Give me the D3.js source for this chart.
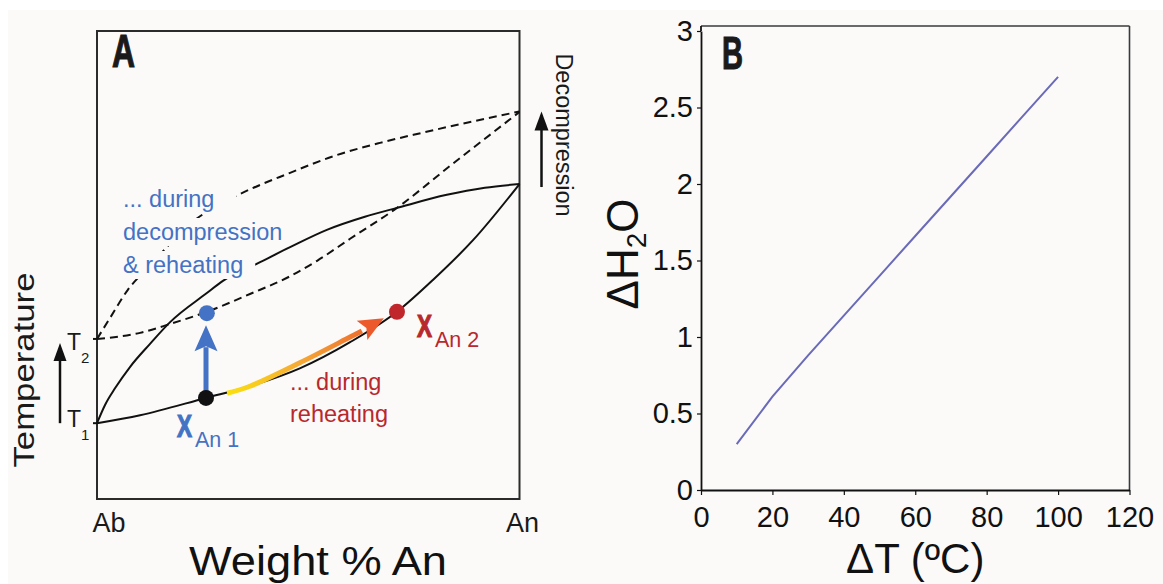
<!DOCTYPE html>
<html><head><meta charset="utf-8">
<script src="https://cdn.jsdelivr.net/npm/d3@7"></script>
<style>
body{margin:0;background:#fff;}
svg{display:block;font-family:"Liberation Sans",Arial,Helvetica,sans-serif;}
</style>
</head><body>
<svg id="c" width="1163" height="584"></svg>
<script>
// ---------- Panel A: schematic phase diagram (Weight % An vs relative temperature) ----------
const liquidusX  = [0, 1.9, 4.3, 7.8, 12.5, 17.3, 26.0, 29.8, 38.6, 45.7, 54.4, 63.4, 71.0, 82.8, 91.8, 100];
const liquidusT  = [16.2, 20.1, 23.7, 28.2, 33.1, 37.8, 44.0, 46.6, 50.6, 53.8, 57.5, 60.3, 62.2, 65.0, 66.5, 67.3];
const solidusX   = [0, 10.2, 25.8, 36.2, 48.0, 59.9, 71.0, 79.5, 89.0, 100];
const solidusT   = [16.2, 17.9, 21.6, 24.1, 27.9, 33.5, 40.0, 46.8, 55.3, 67.3];
const liqDecX    = [0, 3.1, 7.3, 12.5, 22.0, 32.0, 45.7, 56.8, 67.0, 76.7, 100];
const liqDecT    = [34.2, 38.7, 44.7, 49.8, 58.8, 64.3, 69.7, 73.5, 76.1, 78.2, 82.8];
const solDecX    = [0, 10.2, 17.3, 26.0, 36.2, 45.7, 52.1, 59.9, 71.0, 83.6, 100];
const solDecT    = [34.2, 35.5, 37.4, 40.0, 43.8, 47.6, 50.9, 55.6, 62.2, 71.2, 82.7];
const reheatX    = [30.8, 36.2, 48.0, 59.9, 62.7];
const reheatT    = [22.6, 24.1, 29.1, 34.6, 35.9];
const reheatTip  = [67.9, 38.6];
const pointNames = ["XAn1", "XAn1 decompressed", "XAn2"];
const pointX     = [25.8, 26.0, 71.0];
const pointT     = [21.6, 39.7, 40.0];
const T1 = 16.2, T2 = 34.2, anSolid = 67.3, anDashed = 82.8;
const blueText = ["... during", "decompression", "& reheating"];
const redText  = ["... during", "reheating"];

// ---------- Panel B ----------
const dT   = [10, 20, 30, 40, 50, 60, 70, 80, 90, 100];
const dH2O = [0.30, 0.61, 0.88, 1.14, 1.40, 1.66, 1.92, 2.18, 2.44, 2.70];
const xTicksB = [0, 20, 40, 60, 80, 100, 120];
const yTicksB = [0, 0.5, 1, 1.5, 2, 2.5, 3];

const BG = "#fbfaf9", BLUE = "#4472c4", RED = "#b8282e", REDDOT = "#c0272d";
const svg = d3.select("#c");
svg.append("rect").attr("x", 8).attr("y", 10).attr("width", 1155).attr("height", 574).attr("fill", BG);

const defs = svg.append("defs");

// ================= Panel A =================
const xA = d3.scaleLinear().domain([0, 100]).range([97, 519.5]);
const yA = d3.scaleLinear().domain([0, 100]).range([499, 31]);
const gA = svg.append("g");
const lineA = d3.line().x(d => xA(d[0])).y(d => yA(d[1])).curve(d3.curveMonotoneX);
const zip = (a, b) => a.map((v, i) => [v, b[i]]);

// frame
gA.append("rect").attr("x", xA(0)).attr("y", yA(100)).attr("width", xA(100) - xA(0)).attr("height", yA(0) - yA(100))
  .attr("fill", "none").attr("stroke", "#2b2b2b").attr("stroke-width", 2);

// curves
gA.append("path").attr("d", lineA(zip(liqDecX, liqDecT))).attr("fill", "none").attr("stroke", "#111")
  .attr("stroke-width", 2).attr("stroke-dasharray", "8,5");
gA.append("path").attr("d", lineA(zip(solDecX, solDecT))).attr("fill", "none").attr("stroke", "#111")
  .attr("stroke-width", 2).attr("stroke-dasharray", "8,5");
gA.append("path").attr("d", lineA(zip(liquidusX, liquidusT))).attr("fill", "none").attr("stroke", "#111").attr("stroke-width", 2);
gA.append("path").attr("d", lineA(zip(solidusX, solidusT))).attr("fill", "none").attr("stroke", "#111").attr("stroke-width", 2);

// T1/T2 ticks
[T1, T2].forEach(t => gA.append("line").attr("x1", xA(0) - 4).attr("x2", xA(0)).attr("y1", yA(t)).attr("y2", yA(t))
  .attr("stroke", "#111").attr("stroke-width", 2));

// blue text block with per-line background
const bt = gA.append("g");
const btBase = [207, 240, 273];
const btNodes = blueText.map((s, i) => bt.append("text").attr("x", 123).attr("y", btBase[i]).attr("font-size", 23.5)
  .attr("fill", BLUE).text(s));
const bb = btNodes.map(n => n.node().getBBox());
const extraRight = [22, 2, 12];
bb.forEach((b, i) => bt.insert("rect", "text").attr("x", b.x - 3).attr("y", b.y - 1)
  .attr("width", b.width + 3 + extraRight[i]).attr("height", b.height + 2).attr("fill", BG));

// blue vertical arrow (decompression)
const bx = xA(pointX[0]);
gA.append("line").attr("x1", bx).attr("x2", bx).attr("y1", yA(pointT[0])).attr("y2", yA(pointT[1]) + 34)
  .attr("stroke", BLUE).attr("stroke-width", 5);
{
  const tipY = yA(pointT[1]) + 12, baseY = tipY + 26;
  gA.append("path").attr("d", `M${bx},${tipY} L${bx - 11.5},${baseY} L${bx},${baseY - 5} L${bx + 11.5},${baseY} Z`).attr("fill", BLUE);
}

// reheating gradient arrow
const rp = zip(reheatX, reheatT);
const grad = defs.append("linearGradient").attr("id", "rg").attr("gradientUnits", "userSpaceOnUse")
  .attr("x1", xA(reheatX[0])).attr("y1", yA(reheatT[0])).attr("x2", xA(reheatTip[0])).attr("y2", yA(reheatTip[1]));
grad.append("stop").attr("offset", 0).attr("stop-color", "#fbe010");
grad.append("stop").attr("offset", 0.45).attr("stop-color", "#f5aa35");
grad.append("stop").attr("offset", 1).attr("stop-color", "#ec5a2c");
gA.append("path").attr("d", d3.line().x(d => xA(d[0])).y(d => yA(d[1])).curve(d3.curveCatmullRom)(rp))
  .attr("fill", "none").attr("stroke", "url(#rg)").attr("stroke-width", 5);
{
  const tx = xA(reheatTip[0]), ty = yA(reheatTip[1]);
  const lx = xA(reheatX[reheatX.length - 2]), ly = yA(reheatT[reheatT.length - 2]);
  const ang = Math.atan2(ty - ly, tx - lx);
  const L = 25, W = 11;
  const bxp = tx - L * Math.cos(ang), byp = ty - L * Math.sin(ang);
  const nx = -Math.sin(ang), ny = Math.cos(ang);
  gA.append("path").attr("d", `M${tx},${ty} L${bxp + W * nx},${byp + W * ny} L${bxp + 5 * Math.cos(ang)},${byp + 5 * Math.sin(ang)} L${bxp - W * nx},${byp - W * ny} Z`)
    .attr("fill", "#ec5a2c");
}

// points
const pColors = ["#111", BLUE, REDDOT];
pointNames.forEach((n, i) => gA.append("circle").attr("cx", xA(pointX[i])).attr("cy", yA(pointT[i])).attr("r", 8).attr("fill", pColors[i]));

// X An labels
function xLabel(x, y, sub, color) {
  gA.append("text").attr("x", x).attr("y", y).attr("font-size", 32).attr("font-weight", "bold").attr("fill", color)
    .attr("stroke", color).attr("stroke-width", 1.2)
    .attr("textLength", 15).attr("lengthAdjust", "spacingAndGlyphs").text("X");
  gA.append("text").attr("x", x + 18).attr("y", y + 10).attr("font-size", 21.5).attr("fill", color).text(sub);
}
xLabel(177, 437, "An 1", BLUE);
xLabel(417, 337, "An 2", RED);

// red text
redText.forEach((s, i) => gA.append("text").attr("x", 290).attr("y", [390, 422][i]).attr("font-size", 23.5).attr("fill", RED).text(s));

// panel letter
gA.append("text").attr("x", 112).attr("y", 67).attr("font-size", 46).attr("font-weight", "bold").attr("fill", "#1a1a1a")
  .attr("stroke", "#1a1a1a").attr("stroke-width", 1.2)
  .attr("textLength", 23).attr("lengthAdjust", "spacingAndGlyphs").text("A");

// Temperature axis labelling
gA.append("text").attr("transform", "translate(34,370) rotate(-90)").attr("text-anchor", "middle").attr("font-size", 30)
  .attr("fill", "#1a1a1a").attr("textLength", 195).attr("lengthAdjust", "spacingAndGlyphs").text("Temperature");
{
  const ax = 60, y0 = yA(T1), y1 = yA(T2) + 4;
  gA.append("line").attr("x1", ax).attr("x2", ax).attr("y1", y0).attr("y2", y1 + 14).attr("stroke", "#111").attr("stroke-width", 2.5);
  gA.append("path").attr("d", `M${ax},${y1} L${ax - 6.5},${y1 + 18} L${ax + 6.5},${y1 + 18} Z`).attr("fill", "#111");
}
function tLabel(y, sub) {
  gA.append("text").attr("x", 67).attr("y", y).attr("font-size", 23).attr("fill", "#1a1a1a").text("T");
  gA.append("text").attr("x", 81).attr("y", y + 13).attr("font-size", 15).attr("fill", "#1a1a1a").text(sub);
}
tLabel(yA(T2) + 11, "2");
tLabel(yA(T1) + 4, "1");

// Decompression label + arrow
gA.append("text").attr("transform", "translate(556,135) rotate(90)").attr("text-anchor", "middle").attr("font-size", 23.5)
  .attr("fill", "#1a1a1a").text("Decompression");
{
  const ax = 541.5, y0 = yA(anSolid) + 3, y1 = yA(anDashed);
  gA.append("line").attr("x1", ax).attr("x2", ax).attr("y1", y0).attr("y2", y1 + 14).attr("stroke", "#111").attr("stroke-width", 2.5);
  gA.append("path").attr("d", `M${ax},${y1} L${ax - 7},${y1 + 19} L${ax + 7},${y1 + 19} Z`).attr("fill", "#111");
}

// x labels
gA.append("text").attr("x", xA(0) + 12).attr("y", 532).attr("text-anchor", "middle").attr("font-size", 27).attr("fill", "#1a1a1a").text("Ab");
gA.append("text").attr("x", xA(100) + 3).attr("y", 532).attr("text-anchor", "middle").attr("font-size", 27).attr("fill", "#1a1a1a").text("An");
gA.append("text").attr("x", 318).attr("y", 575).attr("text-anchor", "middle").attr("font-size", 41).attr("fill", "#111")
  .attr("textLength", 258).attr("lengthAdjust", "spacingAndGlyphs").text("Weight % An");

// ================= Panel B =================
const xB = d3.scaleLinear().domain([0, 120]).range([701, 1129.5]);
const yB = d3.scaleLinear().domain([0, 3]).range([490, 31]);
const gB = svg.append("g");

gB.append("line").attr("x1", xB(0)).attr("x2", xB(120)).attr("y1", yB(3) - 5).attr("y2", yB(3) - 5).attr("stroke", "#3a3a3a").attr("stroke-width", 1.6);
gB.append("line").attr("x1", xB(120)).attr("x2", xB(120)).attr("y1", yB(3) - 5).attr("y2", yB(0)).attr("stroke", "#3a3a3a").attr("stroke-width", 1.6);
gB.append("line").attr("x1", xB(0)).attr("x2", xB(0)).attr("y1", yB(3) - 5).attr("y2", yB(3)).attr("stroke", "#111").attr("stroke-width", 1.8);

const axX = gB.append("g").attr("transform", `translate(0,${yB(0)})`)
  .call(d3.axisBottom(xB).tickValues(xTicksB).tickFormat(d3.format("d")).tickSize(5).tickPadding(11).tickSizeOuter(0));
const axY = gB.append("g").attr("transform", `translate(${xB(0)},0)`)
  .call(d3.axisLeft(yB).tickValues(yTicksB).tickFormat(d => String(d)).tickSize(4).tickPadding(4).tickSizeOuter(0));
[axX, axY].forEach(a => {
  a.select(".domain").attr("stroke", "#111").attr("stroke-width", 1.8);
  a.selectAll(".tick line").attr("stroke", "#111").attr("stroke-width", 1.2);
  a.selectAll(".tick text").attr("font-size", 29).attr("fill", "#111").attr("font-family", "Liberation Sans, Arial, sans-serif");
});

gB.append("path").attr("d", d3.line().x((d, i) => xB(d)).y((d, i) => yB(dH2O[i]))(dT))
  .attr("fill", "none").attr("stroke", "#6a6ab8").attr("stroke-width", 2);

gB.append("text").attr("x", 722).attr("y", 69).attr("font-size", 46).attr("font-weight", "bold").attr("fill", "#1a1a1a")
  .attr("stroke", "#1a1a1a").attr("stroke-width", 1.2)
  .attr("textLength", 21).attr("lengthAdjust", "spacingAndGlyphs").text("B");

gB.append("text").attr("x", (xB(0) + xB(120)) / 2).attr("y", 573).attr("text-anchor", "middle").attr("font-size", 42)
  .attr("fill", "#111").text("ΔT (ºC)");

const yl = gB.append("text").attr("transform", "translate(638,254) rotate(-90)").attr("text-anchor", "middle")
  .attr("font-size", 44).attr("fill", "#111");
yl.append("tspan").text("ΔH");
yl.append("tspan").attr("font-size", 28).attr("dy", 8).text("2");
yl.append("tspan").attr("dy", -8).text("O");
</script>
</body></html>
